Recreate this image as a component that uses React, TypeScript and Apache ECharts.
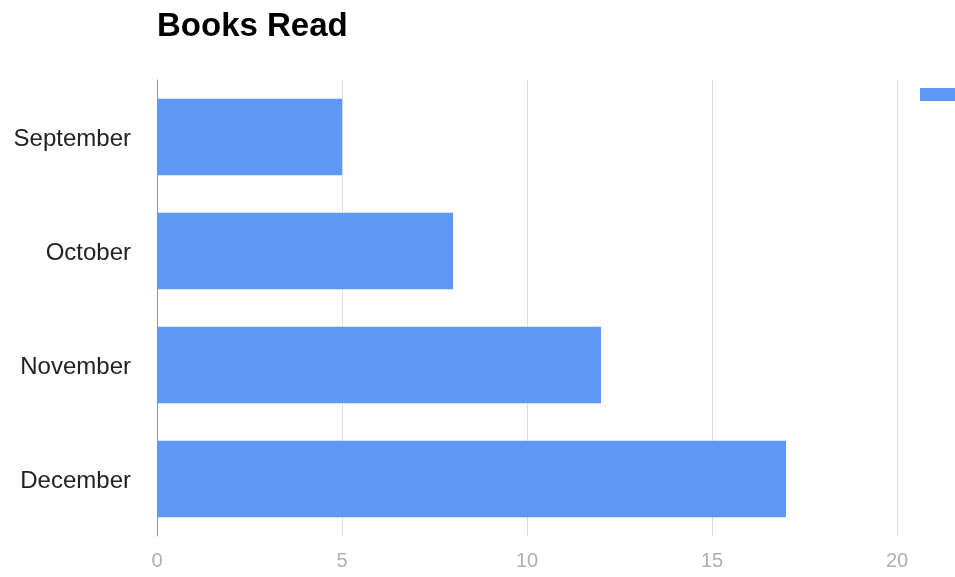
import React, { useEffect, useRef } from "react";
import * as echarts from "echarts";

const categories = ["September", "October", "November", "December"];
const booksRead = [5, 8, 12, 17];
const xTicks = [0, 5, 10, 15, 20];

export default function App() {
  const ref = useRef<HTMLDivElement>(null);
  useEffect(() => {
    if (!ref.current) return;
    const chart = echarts.init(ref.current, undefined, { renderer: "svg" });
    chart.setOption({
      animation: false,
      title: {
        text: "Books Read",
        left: 152,
        top: 3,
        textStyle: {
          fontFamily: "Liberation Sans",
          fontWeight: "bold",
          fontSize: 33,
          color: "#000",
        },
      },
      legend: {
        left: 915,
        top: 83,
        icon: "rect",
        itemWidth: 40,
        itemHeight: 13,
        data: ["Books"],
        formatter: () => "",
        textStyle: { color: "#222", fontSize: 16 },
        itemStyle: { borderWidth: 0 },
      },
      grid: { left: 157, right: 58, top: 80, bottom: 41, containLabel: false },
      xAxis: {
        type: "value",
        min: xTicks[0],
        max: xTicks[xTicks.length - 1],
        interval: 5,
        axisLine: { show: false },
        axisTick: { show: false },
        splitLine: { show: true, lineStyle: { color: "#dcdcdc", width: 1 } },
        axisLabel: {
          color: "#b0b0b0",
          fontSize: 20,
          fontFamily: "Liberation Sans",
          margin: 14,
        },
      },
      yAxis: {
        type: "category",
        data: categories,
        inverse: true,
        axisLine: { show: true, lineStyle: { color: "#999999", width: 1 } },
        axisTick: { show: false },
        axisLabel: {
          color: "#222222",
          fontSize: 24,
          fontFamily: "Liberation Sans",
          margin: 26,
        },
      },
      series: [
        {
          name: "Books",
          type: "bar",
          data: booksRead,
          barCategoryGap: "33%",
          itemStyle: { color: "#5E97F6" },
        },
      ],
    });
    return () => chart.dispose();
  }, []);
  return (
    <div
      ref={ref}
      style={{ position: "fixed", left: 0, top: 0, width: 955, height: 577 }}
    />
  );
}
